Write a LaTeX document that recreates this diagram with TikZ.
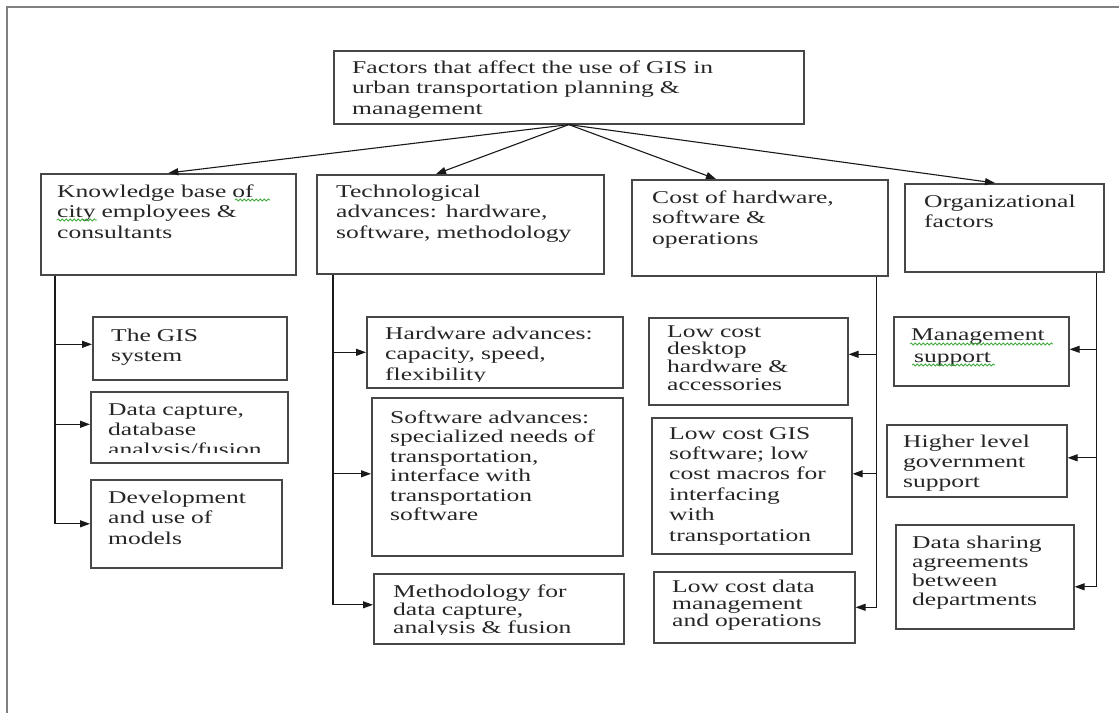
\documentclass[tikz,border=0pt]{standalone}
\usepackage{fontspec}
\setmainfont[FakeStretch=1.42]{Liberation Serif}
\usetikzlibrary{arrows.meta,calc,decorations.pathmorphing}
\hbadness=10000 \hfuzz=1000pt \vbadness=10000 \vfuzz=1000pt
\definecolor{framegray}{gray}{0.5}
\definecolor{spell}{RGB}{60,170,60}
% name, x, y, w, h, padx, pady, text, text style
\newcommand\gbox[9]{%
  \node[box, minimum width=#4pt, minimum height=#5pt] (#1) at (#2,#3) {};
  \node[txt,#9] (#1-t) at ([xshift=#6pt, yshift=-#7pt]#1.north west) {#8};}
\begin{document}
\begin{tikzpicture}[x=1pt, y=-1pt,
  box/.style={draw=black!72, line width=1.6pt, anchor=north west, inner sep=0pt},
  txt/.style={anchor=base west, inner sep=0pt, text width=700pt, align=left,
    text=black!85, font=\fontsize{18}{20.5}\selectfont},
  arr/.style={-{Triangle[length=10pt,width=7pt]}, line width=1.1pt, draw=black!90},
  framed/.style={draw=framegray, line width=2.5pt},
  wave/.style={draw=spell, line width=0.8pt, decorate,
    decoration={snake, segment length=4pt, amplitude=1pt}}]
\useasboundingbox (0,0) rectangle (1119,713);
\draw[framed] (7,713) -- (7,7) -- (1119,7);

% top
\gbox{top}{333}{50}{470}{73}{19}{23}{Factors that affect the use of GIS in\\urban transportation planning \&\\management}{}

% level 1
\gbox{k}{40}{173}{255}{101}{17}{24}{Knowledge base of\\city employees \&\\consultants}{}
\gbox{tech}{316}{174}{287}{99}{20}{23}{Technological\\advances: hardware,\\software, methodology}{}
\gbox{cost}{631}{179}{256}{96}{21}{24}{Cost of hardware,\\software \&\\operations}{}
\gbox{org}{904}{183}{199}{88}{20}{24}{Organizational\\factors}{}

% knowledge children
\gbox{gis}{92}{316}{194}{63}{19}{25}{The GIS\\system}{}
\node[box, minimum width=197pt, minimum height=71pt] (dc) at (90,391) {};
\begin{scope}
  \clip (dc.north west) rectangle (287,452);
  \node[txt, font=\fontsize{18}{20}\selectfont] (dc-t) at ([xshift=18pt, yshift=-24pt]dc.north west) {Data capture,\\database\\analysis/fusion};
\end{scope}
\gbox{dev}{90}{479}{191}{88}{18}{24}{Development\\and use of\\models}{}

% technology children
\node[box, minimum width=256pt, minimum height=71pt] (hw) at (366,316) {};
\begin{scope}
  \clip (hw.north west) rectangle (622,381);
  \node[txt] (hw-t) at ([xshift=19pt, yshift=-23pt]hw.north west) {Hardware advances:\\capacity, speed,\\flexibility};
\end{scope}
\gbox{sw}{371}{397}{251}{158}{19}{26}{Software advances:\\specialized needs of\\transportation,\\interface with\\transportation\\software}{font=\fontsize{18}{19.5}\selectfont}
\node[box, minimum width=250pt, minimum height=70pt] (meth) at (373,573) {};
\begin{scope}
  \clip (meth.north west) rectangle (623,634);
  \node[txt, font=\fontsize{18}{18}\selectfont] (meth-t) at ([xshift=20pt, yshift=-24pt]meth.north west) {Methodology for\\data capture,\\analysis \& fusion};
\end{scope}

% cost children
\gbox{ld}{648}{317}{199}{87}{19}{20}{Low cost\\desktop\\hardware \&\\accessories}{font=\fontsize{18}{17.7}\selectfont}
\gbox{lg}{651}{417}{200}{136}{18}{22}{Low cost GIS\\software; low\\cost macros for\\interfacing\\with\\transportation}{font=\fontsize{18}{20.4}\selectfont}
\gbox{ldm}{653}{571}{201}{71}{19}{21}{Low cost data\\management\\and operations}{font=\fontsize{18}{17}\selectfont}

% organizational children
\gbox{mg}{893}{316}{175}{69}{18}{24}{Management\\\,support}{font=\fontsize{18}{22}\selectfont}
\gbox{hl}{886}{424}{180}{72}{17}{23}{Higher level\\government\\support}{font=\fontsize{18}{20}\selectfont}
\gbox{ds}{895}{524}{178}{104}{17}{24}{Data sharing\\agreements\\between\\departments}{font=\fontsize{18}{19}\selectfont}

% spell-check wavy underlines
\draw[wave] ([xshift=178pt, yshift=-3pt]k-t.base west) -- ++(35,0);
\draw[wave] ([xshift=0pt, yshift=-23pt]k-t.base west) -- ++(40,0);
\draw[wave] ([xshift=-1pt, yshift=-4pt]mg-t.base west) -- ++(143,0);
\draw[wave] ([xshift=1pt, yshift=-25pt]mg-t.base west) -- ++(83,0);

% connectors from top
\draw[arr] (top.south) -- (k.north);
\draw[arr] (top.south) -- ([xshift=120pt]tech.north west);
\draw[arr] (top.south) -- ([xshift=85pt]cost.north west);
\draw[arr] (top.south) -- ([xshift=91pt]org.north west);

% entry points on the child boxes
\coordinate (gisin) at ([yshift=4pt]gis.west);
\coordinate (dcin) at ([yshift=3pt]dc.west);
\coordinate (swin) at ([yshift=3pt]sw.west);
\coordinate (methin) at ([yshift=4pt]meth.west);
\coordinate (ldin) at ([yshift=7pt]ld.east);
\coordinate (lgin) at ([yshift=12pt]lg.east);
\coordinate (mgin) at ([yshift=2pt]mg.east);
\coordinate (hlin) at ([yshift=3pt]hl.east);
\coordinate (dsin) at ([yshift=-10pt]ds.east);

% knowledge branch
\coordinate (kb) at ([xshift=15pt]k.south west);
\draw[arr] (kb) |- (dev.west);
\draw[arr] (kb |- gisin) -- (gisin);
\draw[arr] (kb |- dcin) -- (dcin);

% technology branch
\coordinate (tb) at ([xshift=17pt]tech.south west);
\draw[arr] (tb) |- (methin);
\draw[arr] (tb |- hw.west) -- (hw.west);
\draw[arr] (tb |- swin) -- (swin);

% cost branch
\coordinate (cb) at ([xshift=-12pt]cost.south east);
\draw[arr] (cb) |- (ldm.east);
\draw[arr] (cb |- ldin) -- (ldin);
\draw[arr] (cb |- lgin) -- (lgin);

% organizational branch
\coordinate (ob) at ([xshift=-8pt]org.south east);
\draw[arr] (ob) |- (dsin);
\draw[arr] (ob |- mgin) -- (mgin);
\draw[arr] (ob |- hlin) -- (hlin);
\end{tikzpicture}
\end{document}
